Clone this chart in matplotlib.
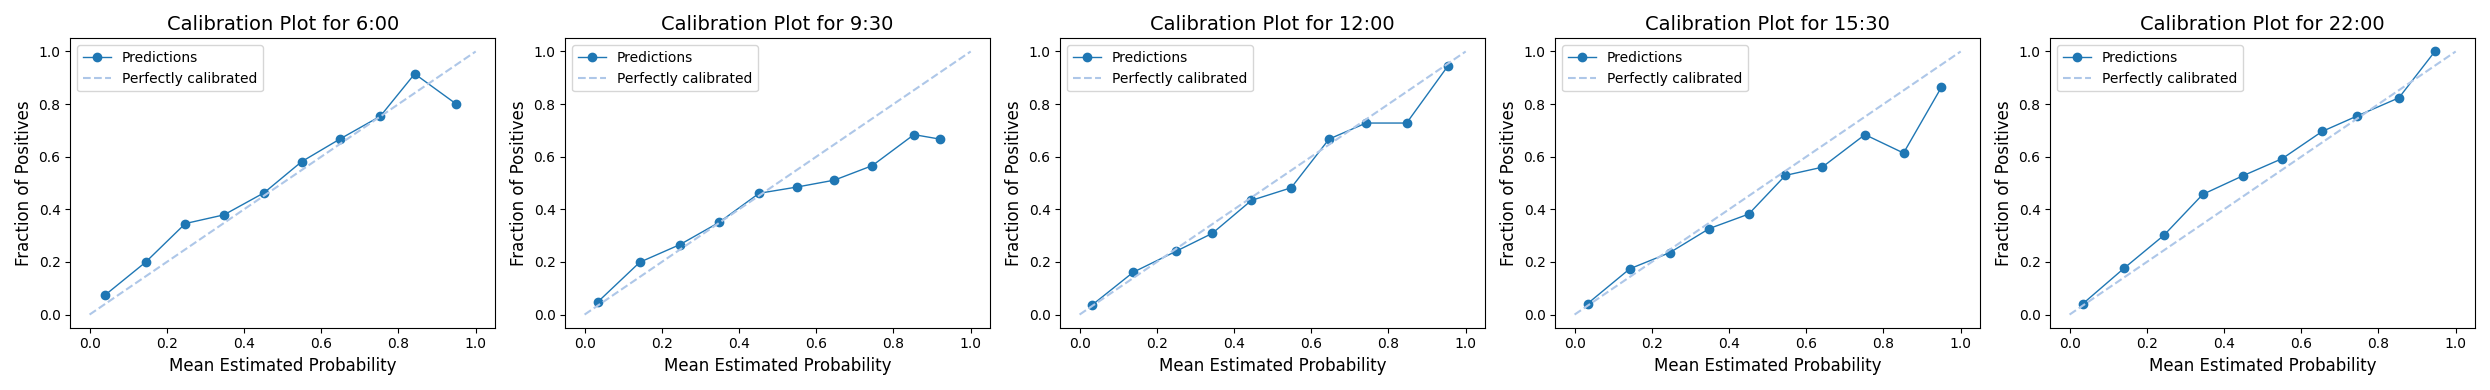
import matplotlib
matplotlib.use("Agg")
import matplotlib.pyplot as plt

titles = ["6:00", "9:30", "12:00", "15:30", "22:00"]

x_600 = [0.040, 0.145, 0.248, 0.348, 0.452, 0.549, 0.648, 0.753, 0.842, 0.949]
y_600 = [0.074, 0.199, 0.346, 0.379, 0.463, 0.581, 0.667, 0.754, 0.915, 0.801]

x_930 = [0.035, 0.143, 0.247, 0.348, 0.452, 0.551, 0.647, 0.745, 0.853, 0.920]
y_930 = [0.049, 0.199, 0.266, 0.350, 0.461, 0.485, 0.511, 0.566, 0.684, 0.667]

x_1200 = [0.033, 0.139, 0.249, 0.344, 0.445, 0.548, 0.646, 0.742, 0.847, 0.954]
y_1200 = [0.037, 0.161, 0.240, 0.309, 0.434, 0.482, 0.667, 0.728, 0.728, 0.945]

x_1530 = [0.034, 0.143, 0.246, 0.349, 0.451, 0.546, 0.641, 0.752, 0.852, 0.950]
y_1530 = [0.042, 0.174, 0.235, 0.327, 0.382, 0.529, 0.560, 0.684, 0.614, 0.864]

x_2200 = [0.035, 0.141, 0.244, 0.345, 0.448, 0.551, 0.654, 0.745, 0.853, 0.946]
y_2200 = [0.042, 0.176, 0.301, 0.457, 0.527, 0.593, 0.696, 0.755, 0.824, 1.000]

xs = [x_600, x_930, x_1200, x_1530, x_2200]
ys = [y_600, y_930, y_1200, y_1530, y_2200]

fig, axes = plt.subplots(1, 5, figsize=(24.9, 3.9), dpi=100)
for ax, t, x, y in zip(axes, titles, xs, ys):
    ax.plot(x, y, marker="o", linewidth=1, color="#1f77b4", label="Predictions")
    ax.plot([0, 1], [0, 1], linestyle="--", color="#aec7e8", label="Perfectly calibrated")
    ax.set_title(f"Calibration Plot for {t}", fontsize=14)
    ax.set_xlabel("Mean Estimated Probability", fontsize=12)
    ax.set_ylabel("Fraction of Positives", fontsize=12)
    ax.legend(loc="upper left")
fig.tight_layout()
fig.savefig("out.png", dpi=100)
